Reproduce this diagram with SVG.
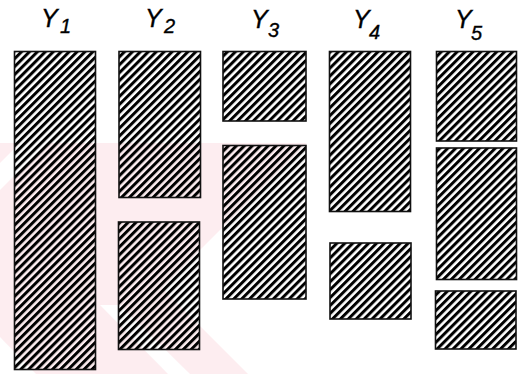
<svg xmlns="http://www.w3.org/2000/svg" width="524" height="374" viewBox="0 0 524 374">
<defs>
<pattern id="hatch" patternUnits="userSpaceOnUse" width="5.6" height="5.6" patternTransform="rotate(45)">
<rect x="0" y="0" width="3" height="5.6" fill="#000"/>
</pattern>
<style>
.bar{fill:url(#hatch);stroke:#111;stroke-width:1.6}
.wm{fill:#fdedf0;stroke:none}
.lbl{font-family:"Liberation Sans",Arial,sans-serif;font-style:italic;fill:#000;stroke:#000;stroke-width:0.35}
.y{font-size:25px}
.s{font-size:20px}
</style>
</defs>
<rect width="524" height="374" fill="#fff"/>
<g id="watermark">
<polygon class="wm" points="0,143 20,143 0,163"/>
<polygon class="wm" points="47,143 307,143 162,288 248,374 0,374 0,190"/>
<polygon points="100,305 120,305 190,374 168,374" fill="#fff"/>
<polygon points="0,337 36,374 0,374" fill="#fff"/>
</g>
<g id="Y1">
<text class="lbl" x="41" y="27"><tspan class="y">Y</tspan><tspan class="s" x="60" y="33">1</tspan></text>
<rect class="bar" x="14.5" y="51.5" width="81" height="318"/>
</g>
<g id="Y2">
<text class="lbl" x="145" y="27"><tspan class="y">Y</tspan><tspan class="s" x="164" y="33">2</tspan></text>
<rect class="bar" x="119" y="51.5" width="81.5" height="146"/>
<rect class="bar" x="118.5" y="222" width="81" height="127.5"/>
</g>
<g id="Y3">
<text class="lbl" x="251" y="28"><tspan class="y">Y</tspan><tspan class="s" x="268" y="37">3</tspan></text>
<rect class="bar" x="223" y="51.5" width="83" height="69.5"/>
<rect class="bar" x="223" y="145.5" width="83" height="153.5"/>
</g>
<g id="Y4">
<text class="lbl" x="353" y="28"><tspan class="y">Y</tspan><tspan class="s" x="369" y="39">4</tspan></text>
<rect class="bar" x="329.5" y="51.5" width="81" height="160"/>
<rect class="bar" x="330" y="243" width="81" height="76"/>
</g>
<g id="Y5">
<text class="lbl" x="455" y="28"><tspan class="y">Y</tspan><tspan class="s" x="471" y="40">5</tspan></text>
<rect class="bar" x="436.5" y="51.5" width="80" height="89.5"/>
<rect class="bar" x="436.5" y="148" width="80" height="131.5"/>
<rect class="bar" x="435.5" y="291" width="80.5" height="58"/>
</g>
<g id="connectors"/>
</svg>
